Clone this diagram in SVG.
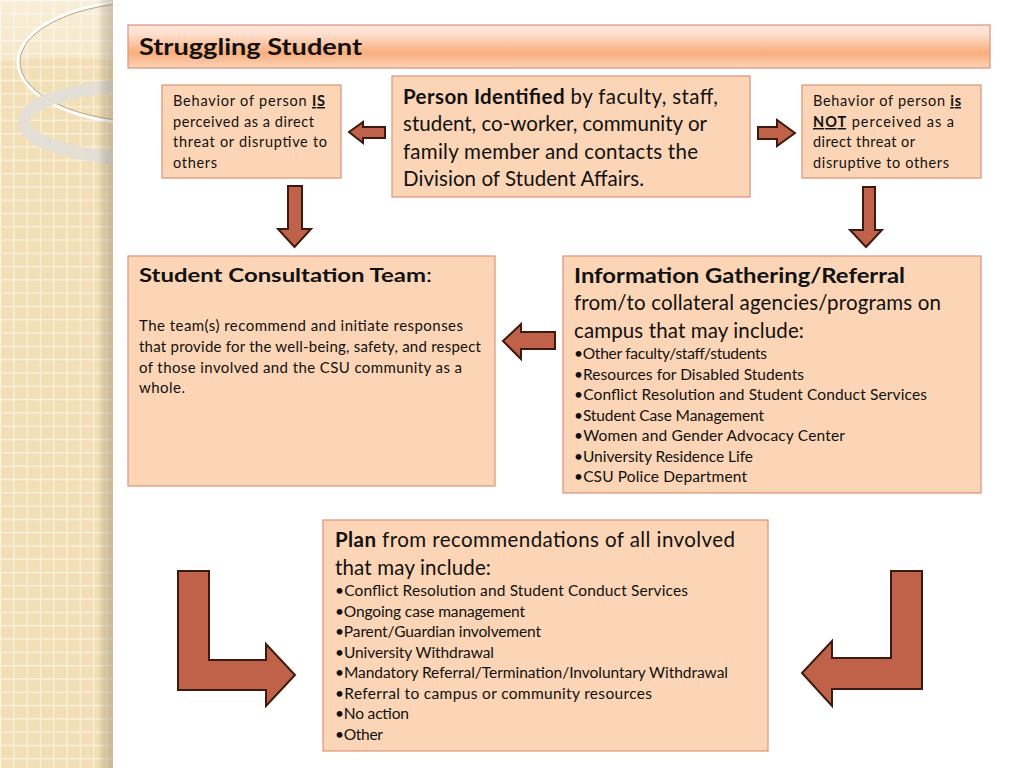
<svg xmlns="http://www.w3.org/2000/svg" width="1024" height="768" viewBox="0 0 1024 768">
<defs>
<pattern id="grid" width="13.3" height="13.3" patternUnits="userSpaceOnUse">
<rect width="13.3" height="13.3" fill="#f3dfb6"/>
<path d="M0 0.5 H13.3 M0.5 0 V13.3" stroke="#fbf3e2" stroke-width="1.2" fill="none"/>
</pattern>
<linearGradient id="shade" x1="0" y1="0" x2="1" y2="0">
<stop offset="0" stop-color="#000" stop-opacity="0"/>
<stop offset="1" stop-color="#8a7a5a" stop-opacity="0.35"/>
</linearGradient>
<linearGradient id="topband" x1="0" y1="0" x2="0" y2="1">
<stop offset="0" stop-color="#fff" stop-opacity="0.45"/>
<stop offset="1" stop-color="#fff" stop-opacity="0.25"/>
</linearGradient>
<linearGradient id="titleg" x1="0" y1="0" x2="0" y2="1">
<stop offset="0" stop-color="#fde6dc"/>
<stop offset="0.2" stop-color="#fde0cf"/>
<stop offset="0.65" stop-color="#f9ae7c"/>
<stop offset="1" stop-color="#fbd3b8"/>
</linearGradient>
<clipPath id="strip"><rect x="0" y="0" width="113" height="768"/></clipPath>
<style>
.box{fill:#fbd5b5;stroke:#d9937a;stroke-width:1.2}
.arr{fill:#c0624a;stroke:#3d1a10;stroke-width:2;stroke-linejoin:miter}
text{font-family:Lato,"Open Sans","Liberation Sans",sans-serif;fill:#111}
.b{font-weight:bold}
.u{text-decoration:underline}
.s{font-size:14.5px}
.m{font-size:20.5px}
.t{font-size:15.5px}
.c{font-size:15px}
</style>
</defs>
<g id="background">
<rect x="0" y="0" width="1024" height="768" fill="#fff"/>
<g clip-path="url(#strip)">
<rect x="0" y="0" width="113" height="768" fill="url(#grid)"/>
<path d="M0 0 H113 V60 Q60 55 0 62 Z" fill="url(#topband)"/>
<ellipse cx="150" cy="62" rx="132" ry="62" fill="none" stroke="#fff" stroke-width="3"/>
<ellipse cx="150" cy="62" rx="130" ry="60" fill="none" stroke="#b8a888" stroke-width="1"/>
<ellipse cx="150" cy="122" rx="126" ry="37" fill="none" stroke="#e2dfd8" stroke-width="13" stroke-opacity="0.9"/>
<rect x="98" y="0" width="15" height="768" fill="url(#shade)"/>
</g>
</g>
<g id="title">
<rect x="128" y="25" width="862" height="43" fill="url(#titleg)" stroke="#d9937a" stroke-width="1.2"/>
<text x="139" y="55" class="b" font-size="23" textLength="223" lengthAdjust="spacingAndGlyphs">Struggling Student</text>
</g>
<g id="behavior-is">
<rect class="box" x="162" y="85" width="179" height="93"/>
<text class="s" x="173" y="106" textLength="152">Behavior of person <tspan class="b u">IS</tspan></text>
<text class="s" x="173" y="127" textLength="141">perceived as a direct</text>
<text class="s" x="173" y="147" textLength="154">threat or disruptive to</text>
<text class="s" x="173" y="168" textLength="44">others</text>
</g>
<g id="person-identified">
<rect class="box" x="392" y="76" width="358" height="121"/>
<text class="m" x="403" y="104" textLength="315"><tspan class="b">Person Identified</tspan> by faculty, staff,</text>
<text class="m" x="403" y="131" textLength="304">student, co-worker, community or</text>
<text class="m" x="403" y="159" textLength="295">family member and contacts the</text>
<text class="m" x="403" y="186" textLength="241">Division of Student Affairs.</text>
</g>
<g id="behavior-not">
<rect class="box" x="802" y="85" width="179" height="93"/>
<text class="s" x="813" y="106" textLength="148">Behavior of person <tspan class="b u">is</tspan></text>
<text class="s" x="813" y="127" textLength="141"><tspan class="b u">NOT</tspan> perceived as a</text>
<text class="s" x="813" y="147" textLength="102">direct threat or</text>
<text class="s" x="813" y="168" textLength="136">disruptive to others</text>
</g>
<g id="consultation-team">
<rect class="box" x="128" y="256" width="367" height="230"/>
<text x="139" y="282" font-size="19" textLength="293" lengthAdjust="spacingAndGlyphs"><tspan class="b">Student Consultation Team</tspan>:</text>
<text class="c" x="139" y="331" textLength="324">The team(s) recommend and initiate responses</text>
<text class="c" x="139" y="352" textLength="342">that provide for the well-being, safety, and respect</text>
<text class="c" x="139" y="373" textLength="323">of those involved and the CSU community as a</text>
<text class="c" x="139" y="393" textLength="46">whole.</text>
</g>
<g id="info-gathering">
<rect class="box" x="563" y="256" width="418" height="237"/>
<text class="m b" x="574" y="283" textLength="331" lengthAdjust="spacingAndGlyphs">Information Gathering/Referral</text>
<text class="m" x="574" y="310" textLength="367">from/to collateral agencies/programs on</text>
<text class="m" x="574" y="338" textLength="230">campus that may include:</text>
<text class="t" x="574" y="359" textLength="193">•Other faculty/staff/students</text>
<text class="t" x="574" y="380" textLength="230">•Resources for Disabled Students</text>
<text class="t" x="574" y="400" textLength="353">•Conflict Resolution and Student Conduct Services</text>
<text class="t" x="574" y="421" textLength="190">•Student Case Management</text>
<text class="t" x="574" y="441" textLength="271">•Women and Gender Advocacy Center</text>
<text class="t" x="574" y="462" textLength="179">•University Residence Life</text>
<text class="t" x="574" y="482" textLength="173">•CSU Police Department</text>
</g>
<g id="plan">
<rect class="box" x="323" y="520" width="445" height="231"/>
<text class="m" x="335" y="547" textLength="400"><tspan class="b">Plan</tspan> from recommendations of all involved</text>
<text class="m" x="335" y="575" textLength="156">that may include:</text>
<text class="t" x="335" y="596" textLength="353">•Conflict Resolution and Student Conduct Services</text>
<text class="t" x="335" y="617" textLength="190">•Ongoing case management</text>
<text class="t" x="335" y="637" textLength="206">•Parent/Guardian involvement</text>
<text class="t" x="335" y="658" textLength="159">•University Withdrawal</text>
<text class="t" x="335" y="678" textLength="393">•Mandatory Referral/Termination/Involuntary Withdrawal</text>
<text class="t" x="335" y="699" textLength="317">•Referral to campus  or community resources</text>
<text class="t" x="335" y="719" textLength="74">•No action</text>
<text class="t" x="335" y="740" textLength="48">•Other</text>
</g>
<g id="connectors">
<path class="arr" d="M349 132 L363 122 L363 127 L385 127 L385 138 L363 138 L363 143 Z"/>
<path class="arr" d="M795 133 L777 120 L777 127 L758 127 L758 139 L777 139 L777 146 Z"/>
<path class="arr" d="M288 186 H302 V229 H311 L294.5 247 L278 229 H288 Z"/>
<path class="arr" d="M863 187 H875 V230 H882 L866 247 L850 230 H863 Z"/>
<path class="arr" d="M503 341 L521 324 V332 H555 V349 H521 V359 Z"/>
<path class="arr" d="M178 571 H209 V660 H266 V644 L295 675 L266 706 V690 H178 Z"/>
<path class="arr" d="M922 571 H891 V658 H832 V641 L802 673 L832 706 V689 H922 Z"/>
</g>
</svg>
